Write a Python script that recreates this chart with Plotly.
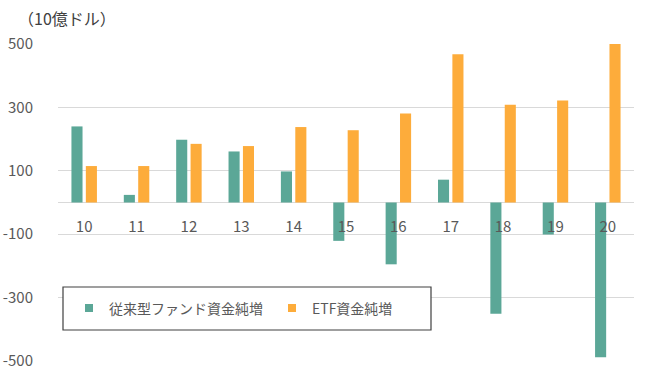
import plotly.graph_objects as go

years = ["10", "11", "12", "13", "14", "15", "16", "17", "18", "19", "20"]
conventional = [240, 24, 198, 161, 98, -121, -195, 72, -351, -101, -488]
etf = [115, 115, 185, 178, 238, 228, 281, 468, 308, 322, 500]
series_names = ["従来型ファンド資金純増", "ETF資金純増"]
y_ticks = [-500, -300, -100, 100, 300, 500]

TEAL = "#5BA797"
ORANGE = "#FDAC3B"
FONT = "Noto Sans CJK JP"
TXT = "#595959"

W, H = 650, 375
L, R, T, B = 58, 16, 44, 14
pw, ph = W - L - R, H - T - B

def px_x(x):
    return (x - L) / pw

def px_y(y):
    return (H - B - y) / ph

fig = go.Figure()
fig.add_trace(go.Bar(x=years, y=conventional, name=series_names[0],
                     marker=dict(color=TEAL, line=dict(width=0)), showlegend=False))
fig.add_trace(go.Bar(x=years, y=etf, name=series_names[1],
                     marker=dict(color=ORANGE, line=dict(width=0)), showlegend=False))
# legend entries with small square markers
for name, col in zip(series_names, [TEAL, ORANGE]):
    fig.add_trace(go.Scatter(x=[None], y=[None], mode="markers", name=name,
                             marker=dict(symbol="square", size=8, color=col)))

fig.update_layout(
    width=W, height=H,
    margin=dict(l=L, r=R, t=T, b=B, pad=0, autoexpand=False),
    paper_bgcolor="white", plot_bgcolor="white",
    barmode="group", bargap=0.45, bargroupgap=0.23,
    font=dict(family=FONT, color=TXT, size=15),
    title=dict(text="（10億ドル）", x=18 / W, xanchor="left", xref="container",
               y=1 - 19 / H, yanchor="middle", yref="container", automargin=False,
               font=dict(family=FONT, size=16, color="#404040")),
    xaxis=dict(type="category", anchor="free", position=0.5, automargin=False,
               showline=False, showgrid=False, ticks="",
               ticklabelstandoff=13,
               tickfont=dict(family=FONT, size=15, color=TXT)),
    yaxis=dict(range=[-500, 500], tickvals=y_ticks, ticktext=[str(v) for v in y_ticks],
               automargin=False,
               showgrid=True, gridcolor="#D9D9D9", gridwidth=1,
               zeroline=True, zerolinecolor="#D9D9D9", zerolinewidth=1,
               showline=False, ticks="", ticklabelstandoff=24,
               tickfont=dict(family=FONT, size=15, color=TXT)),
    legend=dict(orientation="h", x=px_x(69), xanchor="left",
                y=px_y(308.5), yanchor="middle",
                bgcolor="rgba(0,0,0,0)", borderwidth=0,
                font=dict(family=FONT, size=14, color=TXT),
                entrywidth=158, entrywidthmode="pixels", itemwidth=30),
    shapes=[dict(type="rect", xref="paper", yref="paper",
                 x0=px_x(63), x1=px_x(431), y0=px_y(330), y1=px_y(287),
                 line=dict(color="#404040", width=1.2), fillcolor="white",
                 layer="above")],
)
fig.write_html("out.html", config={"displayModeBar": False},
               post_script="document.body.style.margin='0px';")
